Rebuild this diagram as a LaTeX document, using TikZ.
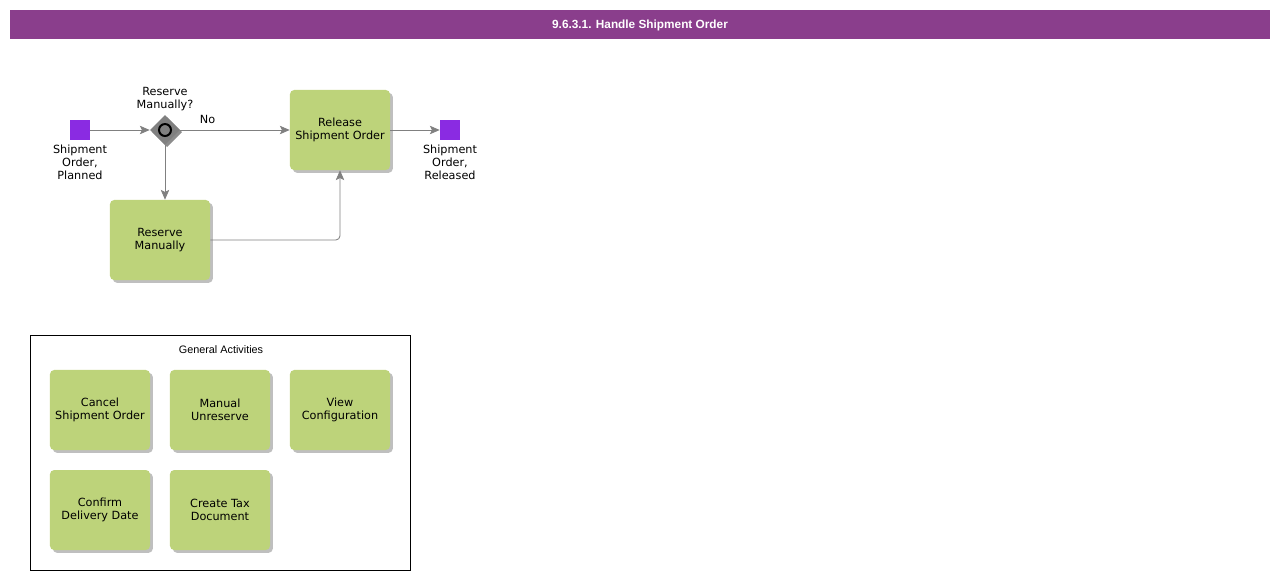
\documentclass[tikz,border=0pt]{standalone}
\usepackage{fontspec}
\setmainfont{DejaVu Sans}
\newfontfamily\arialfont{Liberation Sans}
\usepackage{tikz}
\usetikzlibrary{positioning, arrows.meta, calc, shadows, shapes.geometric}

\definecolor{barpurple}{RGB}{138,62,140}
\definecolor{taskgreen}{RGB}{189,211,122}
\definecolor{eventpurple}{RGB}{138,43,226}
\definecolor{flowgray}{RGB}{128,128,128}

\tikzset{
    task/.style={rectangle, rounded corners=3pt, fill=taskgreen, minimum width=2.5cm, minimum height=2cm,
        align=center, font=\fontsize{8}{9.3}\selectfont, execute at begin node={\rule{0pt}{10pt}},
        drop shadow={shadow xshift=2pt, shadow yshift=-2pt, fill=black!25, opacity=1}},
    event/.style={rectangle, fill=eventpurple, minimum size=0.5cm, inner sep=0pt},
    evlabel/.style={align=center, font=\fontsize{8}{9.3}\selectfont},
    gateway/.style={diamond, fill=flowgray, minimum size=0.75cm, inner sep=0pt,
        drop shadow={shadow xshift=1.5pt, shadow yshift=-1.5pt, fill=black!45, opacity=1}},
    flow/.style={-{Stealth[length=7pt, width=6pt, inset=1.5pt]}, draw=flowgray, line width=0.6pt}
}

\begin{document}
\begin{tikzpicture}[x=0.025cm, y=-0.025cm]
    \useasboundingbox (0,0) rectangle (1280,580);

    % ---------------------------------------------------
    % 1. Title bar
    % ---------------------------------------------------
    \fill[barpurple] (10,10) rectangle (1270,39);
    \node[text=white, font=\arialfont\bfseries\fontsize{8.4}{10}\selectfont] (title) at (640,25)
        {9.6.3.1. Handle Shipment Order};

    % ---------------------------------------------------
    % 2. Process flow
    % ---------------------------------------------------
    \node[event] (start) at (80,130) {};
    \node[evlabel, below=0pt of start] (startlbl) {Shipment\\Order,\\Planned};

    \node[gateway] (gw) at (165,130) {};
    \draw[black, line width=1.4pt, fill=flowgray] (gw.center) circle (6);
    \node[evlabel, above=-1pt of gw] (gwlbl) {Reserve\\Manually?};

    \node[task] (release) at (340,130) {Release\\Shipment Order};
    \node[task] (reserve) at (160,240) {Reserve\\Manually};

    \node[event] (end) at (450,130) {};
    \node[evlabel, below=0pt of end] (endlbl) {Shipment\\Order,\\Released};

    % Sequence flows
    \draw[flow] (start) -- (gw);
    \draw[flow] (gw) -- node[pos=0.25, above=1pt, evlabel] {No} (release);
    \draw[flow] (gw.south) -- (gw.south |- reserve.north);
    \draw[flow, rounded corners=3pt] (reserve.east) -- (release.south |- reserve.east) -- (release.south);
    \draw[flow] (release) -- (end);

    % ---------------------------------------------------
    % 3. General activities
    % ---------------------------------------------------
    \draw[black, line width=0.6pt] (30,335) rectangle (410,570);
    \node[font=\arialfont\fontsize{7.7}{9}\selectfont] (gentitle) at (221,350) {General Activities};

    \node[task] (cancel) at (100,410) {Cancel\\Shipment Order};
    \node[task] (unreserve) at (220,410) {Manual\\Unreserve};
    \node[task] (viewcfg) at (340,410) {View\\Configuration};
    \node[task] (confirm) at (100,510) {Confirm\\Delivery Date};
    \node[task] (taxdoc) at (220,510) {Create Tax\\Document};

\end{tikzpicture}
\end{document}
